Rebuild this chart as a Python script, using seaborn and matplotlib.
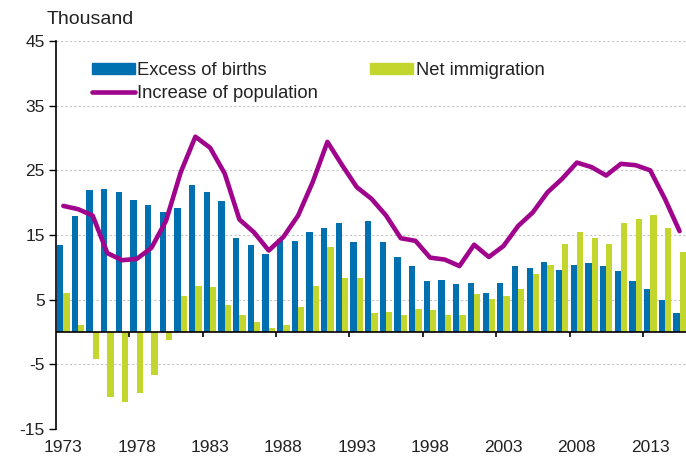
import numpy as np
import pandas as pd
import matplotlib
matplotlib.use("Agg")
import matplotlib.pyplot as plt
import seaborn as sns
from matplotlib.patches import Patch
from matplotlib.lines import Line2D

# ? data (thousand persons)
years = list(range(1973, 2016))
excess_of_births = [13.4, 17.9, 21.9, 22.1, 21.7, 20.4, 19.6, 18.6, 19.1, 22.7,
                    21.7, 20.2, 14.6, 13.4, 12.1, 14.4, 14.1, 15.4, 16.1, 16.9,
                    13.9, 17.1, 13.9, 11.6, 10.2, 7.9, 8.1, 7.4, 7.6, 6.1,
                    7.6, 10.2, 9.9, 10.9, 9.6, 10.4, 10.6, 10.2, 9.4, 7.9,
                    6.6, 4.9, 2.9]
net_immigration = [6.1, 1.1, -4.1, -10.1, -10.8, -9.4, -6.6, -1.3, 5.6, 7.1,
                   6.9, 4.1, 2.6, 1.6, 0.6, 1.1, 3.9, 7.1, 13.1, 8.4,
                   8.4, 2.9, 3.1, 2.6, 3.6, 3.4, 2.6, 2.6, 5.9, 5.1,
                   5.6, 6.6, 8.9, 10.4, 13.6, 15.4, 14.6, 13.6, 16.9, 17.4,
                   18.1, 16.1, 12.4]
increase_of_population = [19.5, 19.0, 18.0, 12.2, 11.1, 11.3, 13.0, 17.2, 24.7, 30.2,
                          28.5, 24.5, 17.4, 15.4, 12.6, 14.7, 18.0, 23.2, 29.4, 25.8,
                          22.4, 20.6, 18.0, 14.5, 14.1, 11.5, 11.2, 10.2, 13.5, 11.6,
                          13.3, 16.4, 18.5, 21.6, 23.7, 26.2, 25.5, 24.2, 26.0, 25.8,
                          25.0, 20.6, 15.6]
series_names = ["Excess of births", "Net immigration"]
line_name = "Increase of population"

# * colours
blue = "#0070b0"
green = "#c3d62e"
purple = "#a0048c"
text_col = "#222222"

df = pd.DataFrame({
    "year": [str(y) for y in years] * 2,
    "value": excess_of_births + net_immigration,
    "series": [series_names[0]] * len(years) + [series_names[1]] * len(years),
})

sns.set_style("white")
plt.rcParams["font.family"] = ["Liberation Sans", "DejaVu Sans"]

fig = plt.figure(figsize=(6.86, 4.59), dpi=100)
ax = fig.add_axes([56 / 686, 30 / 459, 630 / 686, 388 / 459])

sns.barplot(data=df, x="year", y="value", hue="series",
            palette=[blue, green], width=0.86, saturation=1,
            linewidth=0, legend=False, ax=ax)
sns.lineplot(x=np.arange(len(years)), y=increase_of_population,
             color=purple, linewidth=3.3, ax=ax)

# ? axes styling
ax.set_xlim(-0.5, 42.44)
ax.set_ylim(-15, 45)
ax.set_yticks(range(-15, 46, 10))
ax.set_yticklabels([str(v) for v in range(-15, 46, 10)])
ax.set_xticks(range(0, len(years), 5))
ax.set_xticklabels([str(y) for y in years[::5]])
ax.set_xlabel("")
ax.set_ylabel("")

ax.grid(axis="y", color="#c4c4c4", linestyle=(0, (2, 2)), linewidth=0.8)
ax.set_axisbelow(True)
for side in ["top", "right", "bottom"]:
    ax.spines[side].set_visible(False)
ax.spines["left"].set_color("black")
ax.spines["left"].set_linewidth(1.2)

ax.tick_params(axis="y", length=5, width=1, color="black", labelsize=12.5,
               labelcolor=text_col, pad=3, left=True)
ax.tick_params(axis="x", length=0, labelsize=12.5, labelcolor=text_col, pad=8)

# * zero line with category ticks
ax.axhline(0, color="black", linewidth=1.2, zorder=3)
ax.vlines(np.arange(4.5, len(years), 5), -0.7, 0, color="black", linewidth=1.2, zorder=3)

fig.text(47 / 686, 1 - 19 / 459, "Thousand", fontsize=14, color=text_col, va="center")

handles = [Patch(color=blue), Line2D([], [], color=purple, linewidth=3.3), Patch(color=green)]
labels = [series_names[0], line_name, series_names[1]]
ax.legend(handles, labels, ncol=2, loc="upper left", bbox_to_anchor=(92 / 686, 1 - 62 / 459),
          bbox_transform=fig.transFigure, frameon=False, fontsize=13.2,
          labelcolor=text_col, handlelength=2.35, handleheight=0.5, handletextpad=0.12,
          columnspacing=2.85, labelspacing=0.3, borderpad=0, borderaxespad=0)

fig.savefig("out.png", dpi=100)
